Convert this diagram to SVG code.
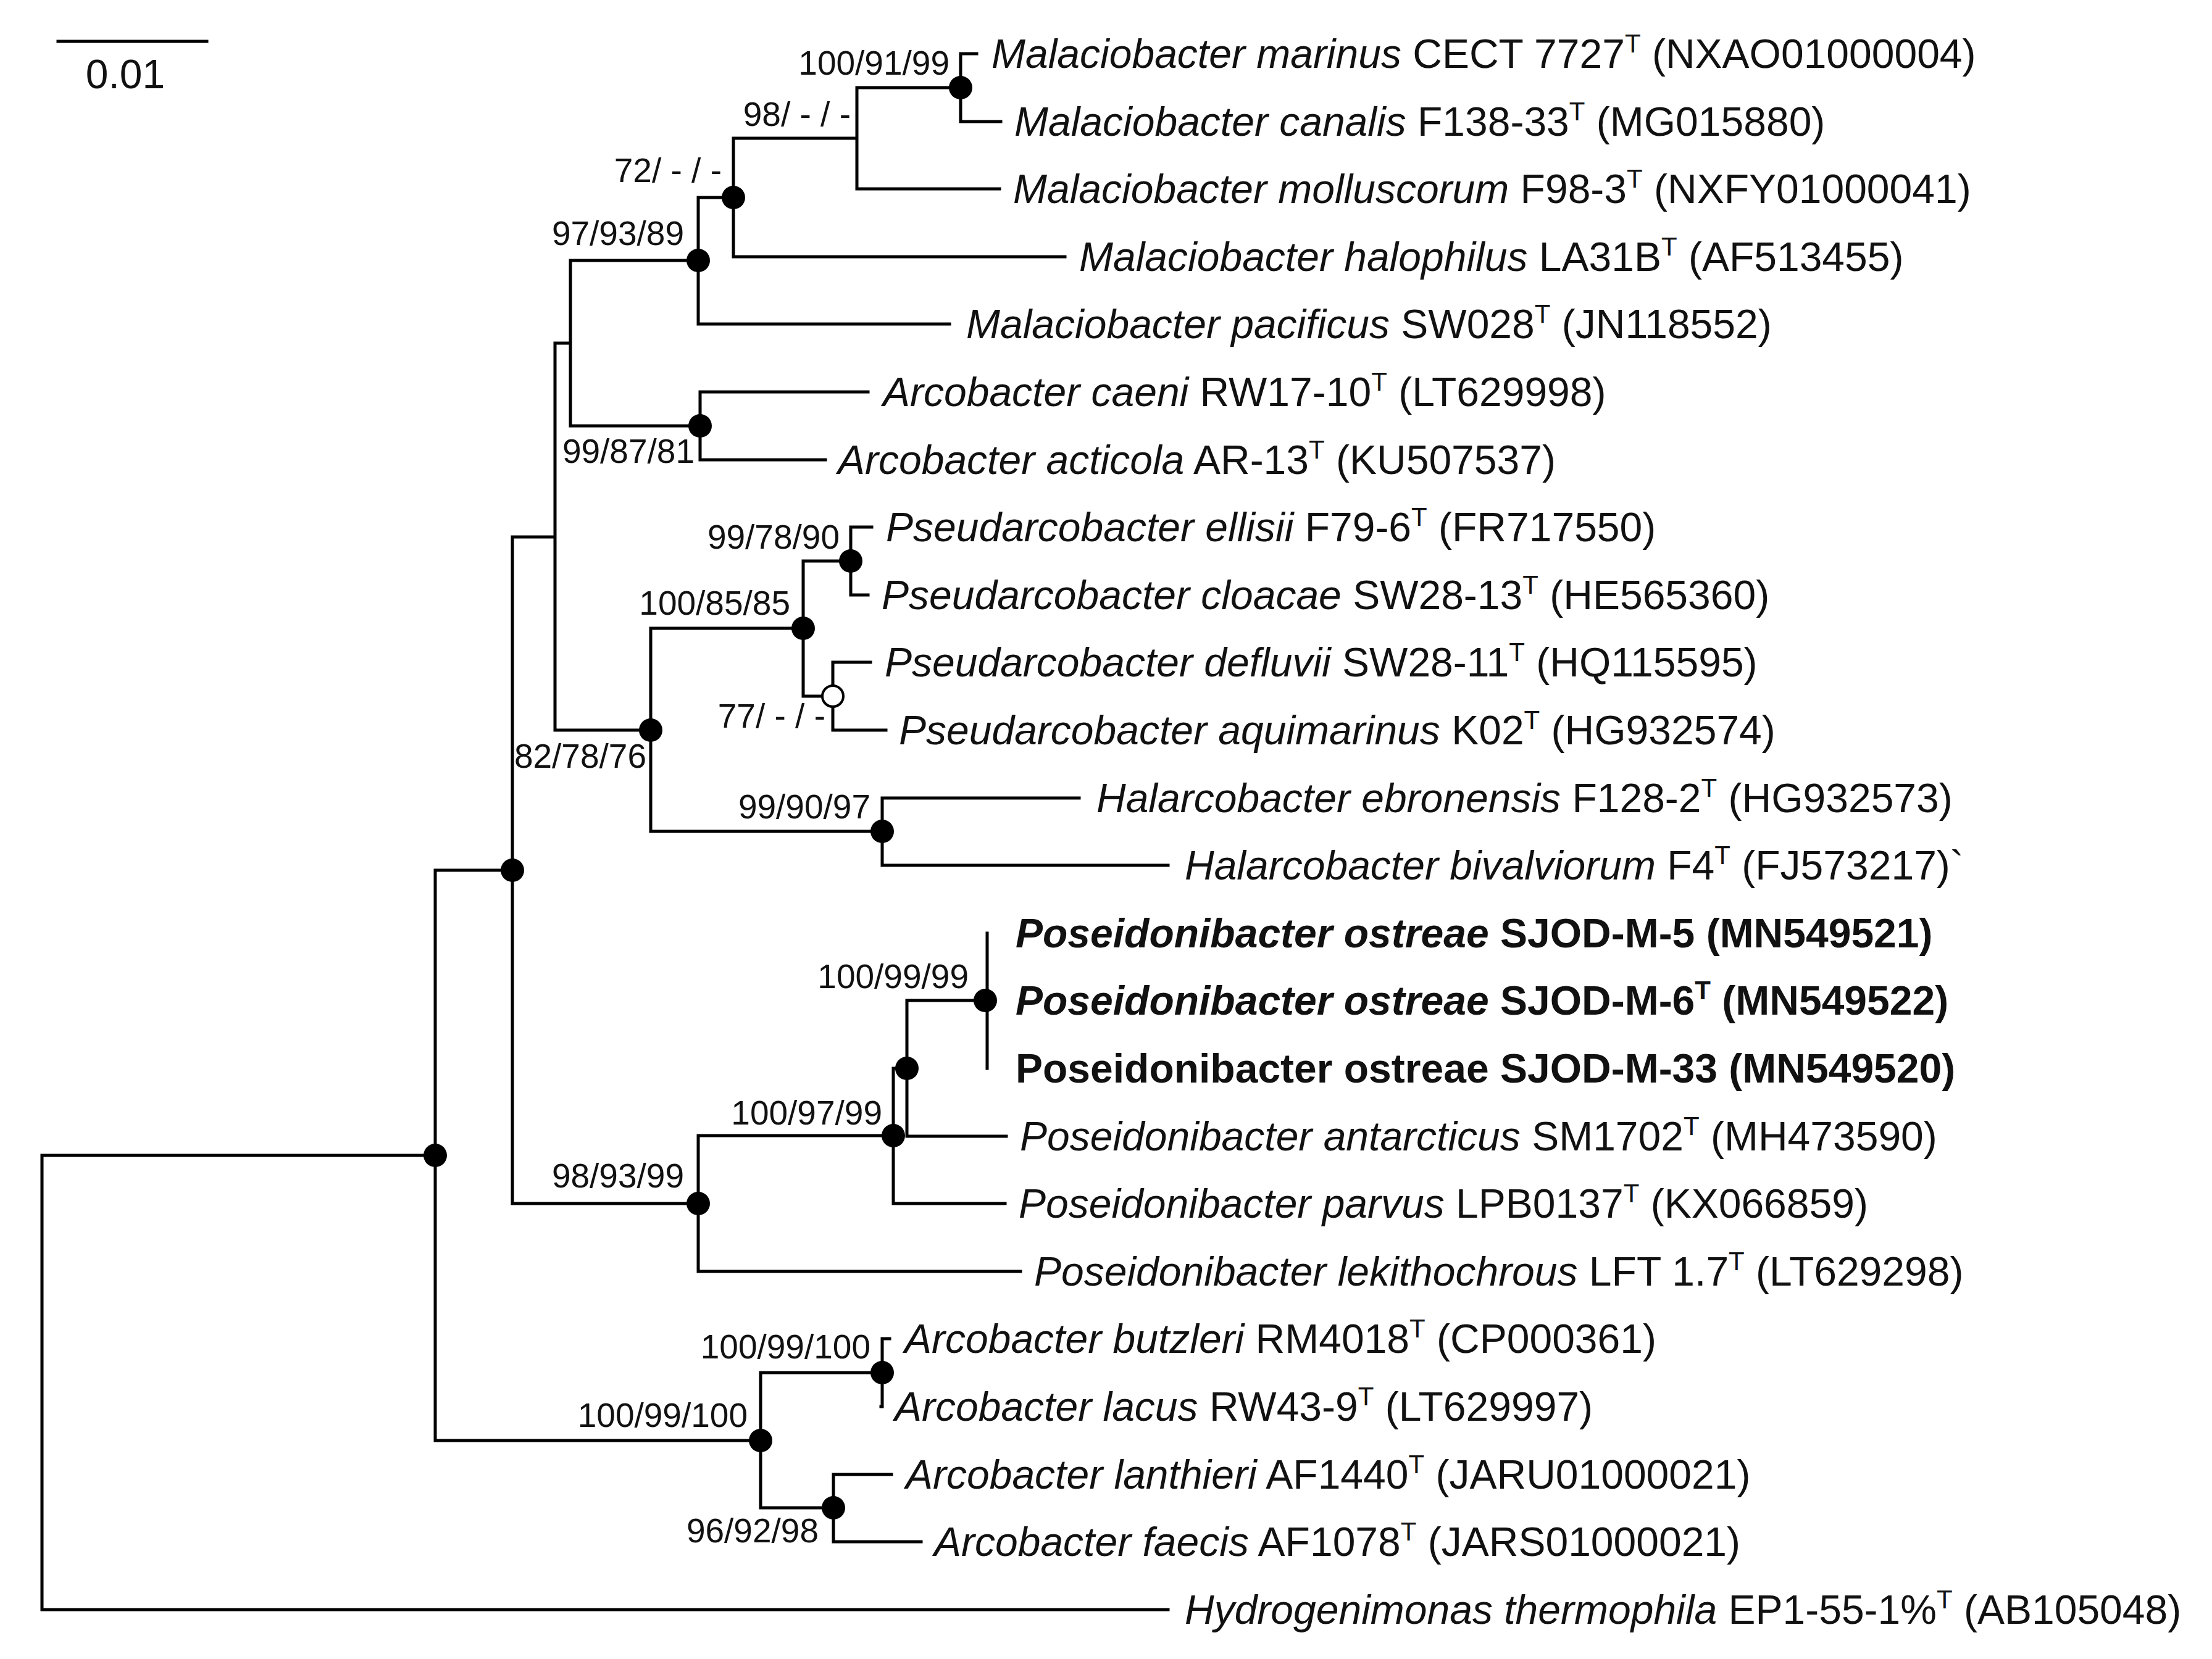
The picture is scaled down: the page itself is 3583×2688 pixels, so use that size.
<svg xmlns="http://www.w3.org/2000/svg" width="3583" height="2688" viewBox="0 0 3583 2688">
<style>
.b{fill:none;stroke:#000;stroke-width:5;stroke-linecap:square}
.t{font-family:"Liberation Sans",Arial,sans-serif;font-size:66px;fill:#111}
.bs{font-family:"Liberation Sans",Arial,sans-serif;font-size:55px;fill:#111;text-anchor:end}
.i{font-style:italic}
.bo{font-weight:bold}
.d{fill:#000}
.o{fill:#fff;stroke:#000;stroke-width:4}
</style>
<rect width="3583" height="2688" fill="#fff"/>
<g id="scale">
<line class="b" x1="94" y1="67" x2="335" y2="67"/>
<text class="t" x="203" y="143" text-anchor="middle" font-size="58">0.01</text>
</g>
<g id="connectors">
<path class="b" d="M68 1872V2608H1892 M68 1872H705 M705 1410V2334 M705 1410H830 M830 870V1950 M830 870H899 M899 556V1183 M899 556H924 M924 422V690 M924 422H1131 M1131 320V525H1538 M1131 320H1188 M1188 224V416H1725 M1188 224H1388 M1388 142V306H1619 M1388 142H1556 M1556 87V197H1621 M1556 87H1582 M924 690H1134 M1134 635V745H1337 M1134 635H1406 M899 1183H1054 M1054 1018V1347 M1054 1018H1301 M1301 909V1128 M1301 909H1378 M1378 854V964H1406 M1378 854H1412 M1301 1128H1349 M1349 1073V1183H1435 M1349 1073H1410 M1054 1347H1429 M1429 1293V1402H1892 M1429 1293H1748 M830 1950H1131 M1131 1840V2060H1653 M1131 1840H1447 M1447 1731V1950H1628 M1447 1731H1469 M1469 1621V1841H1630 M1469 1621H1599 M1599 1512V1731 M705 2334H1232 M1232 2224V2443 M1232 2224H1429 M1429 2169V2279H1427 M1429 2169H1441 M1232 2443H1350 M1350 2389V2498H1492 M1350 2389H1444"/>
</g>
<g id="nodes">
<circle class="d" cx="1556" cy="142" r="19"/>
<circle class="d" cx="1188" cy="320" r="19"/>
<circle class="d" cx="1131" cy="422" r="19"/>
<circle class="d" cx="1134" cy="690" r="19"/>
<circle class="d" cx="1378" cy="909" r="19"/>
<circle class="d" cx="1301" cy="1018" r="19"/>
<circle class="o" cx="1349" cy="1128" r="17"/>
<circle class="d" cx="1054" cy="1183" r="19"/>
<circle class="d" cx="1429" cy="1347" r="19"/>
<circle class="d" cx="830" cy="1410" r="19"/>
<circle class="d" cx="705" cy="1872" r="19"/>
<circle class="d" cx="1596" cy="1621" r="19"/>
<circle class="d" cx="1469" cy="1731" r="19"/>
<circle class="d" cx="1447" cy="1840" r="19"/>
<circle class="d" cx="1131" cy="1950" r="19"/>
<circle class="d" cx="1429" cy="2224" r="19"/>
<circle class="d" cx="1232" cy="2334" r="19"/>
<circle class="d" cx="1350" cy="2443" r="19"/>
</g>
<g id="support">
<text class="bs" x="1538" y="121">100/91/99</text>
<text class="bs" x="1378" y="204">98/ - / -</text>
<text class="bs" x="1169" y="295">72/ - / -</text>
<text class="bs" x="1108" y="397">97/93/89</text>
<text class="bs" x="1125" y="750">99/87/81</text>
<text class="bs" x="1360" y="889">99/78/90</text>
<text class="bs" x="1280" y="996">100/85/85</text>
<text class="bs" x="1337" y="1179">77/ - / -</text>
<text class="bs" x="1047" y="1244">82/78/76</text>
<text class="bs" x="1410" y="1326">99/90/97</text>
<text class="bs" x="1569" y="1601">100/99/99</text>
<text class="bs" x="1429" y="1822">100/97/99</text>
<text class="bs" x="1108" y="1924">98/93/99</text>
<text class="bs" x="1410" y="2201">100/99/100</text>
<text class="bs" x="1211" y="2312">100/99/100</text>
<text class="bs" x="1326" y="2499">96/92/98</text>
</g>
<g id="taxa">
<text class="t" x="1606" y="110"><tspan class="i">Malaciobacter marinus</tspan> CECT 7727<tspan font-size="42" dy="-25">T</tspan><tspan dy="25"> (NXAO01000004)</tspan></text>
<text class="t" x="1643" y="220"><tspan class="i">Malaciobacter canalis</tspan> F138-33<tspan font-size="42" dy="-25">T</tspan><tspan dy="25"> (MG015880)</tspan></text>
<text class="t" x="1641" y="329"><tspan class="i">Malaciobacter molluscorum</tspan> F98-3<tspan font-size="42" dy="-25">T</tspan><tspan dy="25"> (NXFY01000041)</tspan></text>
<text class="t" x="1748" y="439"><tspan class="i">Malaciobacter halophilus</tspan> LA31B<tspan font-size="42" dy="-25">T</tspan><tspan dy="25"> (AF513455)</tspan></text>
<text class="t" x="1565" y="548"><tspan class="i">Malaciobacter pacificus</tspan> SW028<tspan font-size="42" dy="-25">T</tspan><tspan dy="25"> (JN118552)</tspan></text>
<text class="t" x="1430" y="658"><tspan class="i">Arcobacter caeni</tspan> RW17-10<tspan font-size="42" dy="-25">T</tspan><tspan dy="25"> (LT629998)</tspan></text>
<text class="t" x="1357" y="768"><tspan class="i">Arcobacter acticola</tspan> AR-13<tspan font-size="42" dy="-25">T</tspan><tspan dy="25"> (KU507537)</tspan></text>
<text class="t" x="1435" y="877"><tspan class="i">Pseudarcobacter ellisii</tspan> F79-6<tspan font-size="42" dy="-25">T</tspan><tspan dy="25"> (FR717550)</tspan></text>
<text class="t" x="1428" y="987"><tspan class="i">Pseudarcobacter cloacae</tspan> SW28-13<tspan font-size="42" dy="-25">T</tspan><tspan dy="25"> (HE565360)</tspan></text>
<text class="t" x="1433" y="1096"><tspan class="i">Pseudarcobacter defluvii</tspan> SW28-11<tspan font-size="42" dy="-25">T</tspan><tspan dy="25"> (HQ115595)</tspan></text>
<text class="t" x="1456" y="1206"><tspan class="i">Pseudarcobacter aquimarinus</tspan> K02<tspan font-size="42" dy="-25">T</tspan><tspan dy="25"> (HG932574)</tspan></text>
<text class="t" x="1776" y="1316"><tspan class="i">Halarcobacter ebronensis</tspan> F128-2<tspan font-size="42" dy="-25">T</tspan><tspan dy="25"> (HG932573)</tspan></text>
<text class="t" x="1919" y="1425"><tspan class="i">Halarcobacter bivalviorum</tspan> F4<tspan font-size="42" dy="-25">T</tspan><tspan dy="25"> (FJ573217)`</tspan></text>
<text class="t bo" x="1645" y="1535"><tspan class="i">Poseidonibacter ostreae</tspan> SJOD-M-5 (MN549521)</text>
<text class="t bo" x="1645" y="1644"><tspan class="i">Poseidonibacter ostreae</tspan> SJOD-M-6<tspan font-size="42" dy="-25">T</tspan><tspan dy="25"> (MN549522)</tspan></text>
<text class="t bo" x="1645" y="1754">Poseidonibacter ostreae SJOD-M-33 (MN549520)</text>
<text class="t" x="1652" y="1864"><tspan class="i">Poseidonibacter antarcticus</tspan> SM1702<tspan font-size="42" dy="-25">T</tspan><tspan dy="25"> (MH473590)</tspan></text>
<text class="t" x="1650" y="1973"><tspan class="i">Poseidonibacter parvus</tspan> LPB0137<tspan font-size="42" dy="-25">T</tspan><tspan dy="25"> (KX066859)</tspan></text>
<text class="t" x="1675" y="2083"><tspan class="i">Poseidonibacter lekithochrous</tspan> LFT 1.7<tspan font-size="42" dy="-25">T</tspan><tspan dy="25"> (LT629298)</tspan></text>
<text class="t" x="1465" y="2192"><tspan class="i">Arcobacter butzleri</tspan> RM4018<tspan font-size="42" dy="-25">T</tspan><tspan dy="25"> (CP000361)</tspan></text>
<text class="t" x="1449" y="2302"><tspan class="i">Arcobacter lacus</tspan> RW43-9<tspan font-size="42" dy="-25">T</tspan><tspan dy="25"> (LT629997)</tspan></text>
<text class="t" x="1467" y="2412"><tspan class="i">Arcobacter lanthieri</tspan> AF1440<tspan font-size="42" dy="-25">T</tspan><tspan dy="25"> (JARU01000021)</tspan></text>
<text class="t" x="1513" y="2521"><tspan class="i">Arcobacter faecis</tspan> AF1078<tspan font-size="42" dy="-25">T</tspan><tspan dy="25"> (JARS01000021)</tspan></text>
<text class="t" x="1919" y="2631"><tspan class="i">Hydrogenimonas thermophila</tspan> EP1-55-1%<tspan font-size="42" dy="-25">T</tspan><tspan dy="25"> (AB105048)</tspan></text>
</g>
</svg>
